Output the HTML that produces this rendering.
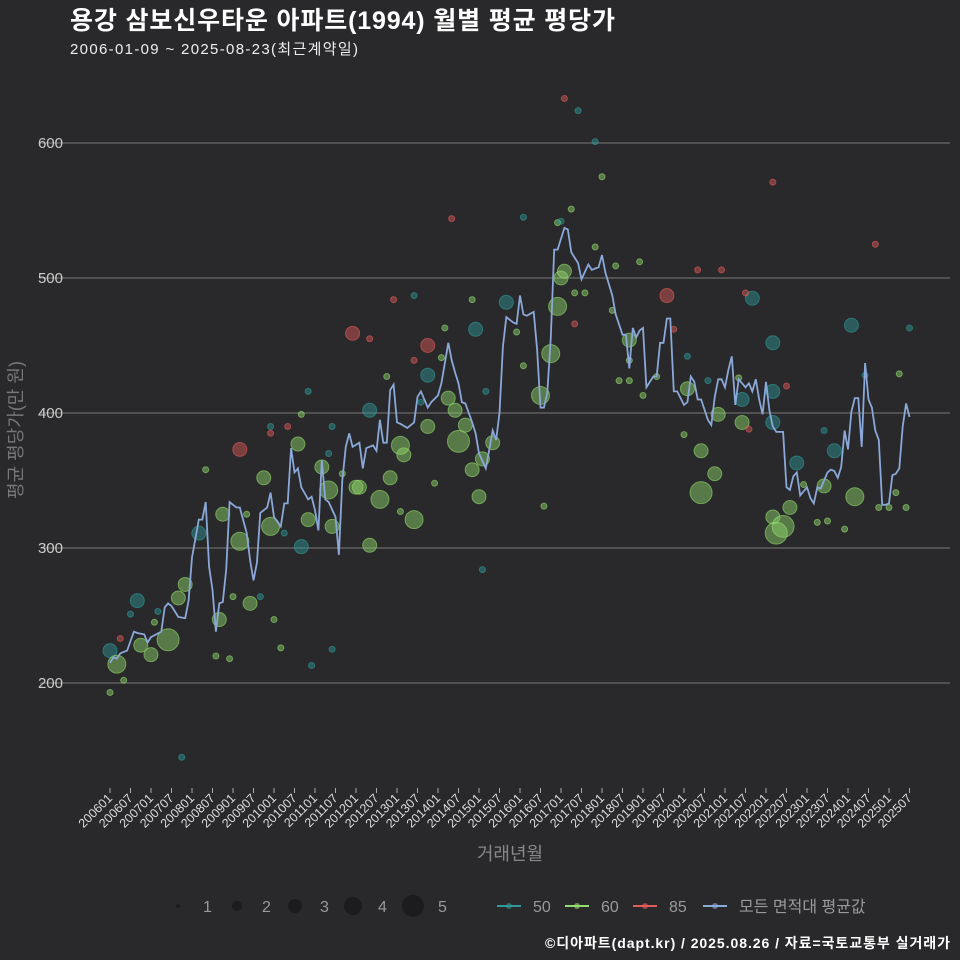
<!DOCTYPE html>
<html><head><meta charset="utf-8"><style>
body{margin:0;background:#29292b;}
svg{display:block;font-family:"Liberation Sans","Noto Sans CJK KR",sans-serif;}
</style></head><body>
<svg id="c" width="960" height="960" viewBox="0 0 960 960">
<rect width="960" height="960" fill="#29292b"/>
<text x="70" y="29" fill="#fff" font-size="25" font-weight="bold" textLength="545">용강 삼보신우타운 아파트(1994) 월별 평균 평당가</text>
<text x="70" y="54" fill="#eee" font-size="15" textLength="288">2006-01-09 ~ 2025-08-23(최근계약일)</text>
<g id="grid"></g><g id="pts"></g><g id="line"></g><g id="xax"></g>
<text transform="translate(22,430) rotate(-90)" text-anchor="middle" fill="#777" font-size="18">평균 평당가(만 원)</text>
<text x="510" y="860" text-anchor="middle" fill="#888" font-size="18">거래년월</text>
<g id="legend"></g>
<text x="950" y="948" text-anchor="end" fill="#fff" font-size="14" font-weight="bold" textLength="405">©디아파트(dapt.kr) / 2025.08.26 / 자료=국토교통부 실거래가</text>
</svg>
<script>
const yTicks=[200,300,400,500,600];
const xTickLabels=[];for(let y=2006;y<=2025;y++){xTickLabels.push(y+"01");xTickLabels.push(y+"07");}
const lineMonths=[0,1,2,3,5,7,8,10,11,12,15,16,17,18,20,22,23,24,26,27,28,29,30,31,32,33,34,35,37,38,40,41,42,43,44,46,47,48,50,51,52,53,54,55,56,58,59,60,61,62,63,64,66,67,68,69,70,71,73,74,75,77,78,79,80,81,82,83,84,85,87,89,90,91,93,94,96,97,99,100,101,102,103,104,105,106,107,108,110,111,112,113,114,115,116,117,118,119,120,121,122,124,125,126,127,128,129,130,131,133,134,135,137,138,140,141,142,143,144,145,147,148,150,151,152,153,154,155,156,157,159,160,161,162,163,164,165,166,168,169,170,171,172,173,175,176,177,178,179,180,181,182,183,184,185,186,187,188,189,190,191,192,193,194,195,197,198,199,200,201,202,203,204,205,206,207,208,209,210,211,212,213,214,215,216,217,218,219,220,221,222,223,224,225,226,227,228,229,230,231,232,233,234];
const lineValues=[215,219,218,222,224,238,237,236,230,234,238,256,259,257,249,248,261,293,321,321,334,286,269,238,259,260,284,334,330,330,311,291,276,289,326,330,341,323,316,333,333,374,356,359,345,336,338,328,313,365,336,334,323,295,350,375,385,375,378,359,374,376,372,395,378,378,417,421,393,392,389,393,412,416,404,408,413,422,452,439,430,422,408,407,400,393,385,370,359,373,387,380,400,449,471,469,467,466,487,473,472,475,447,404,404,415,456,521,521,537,536,519,511,499,510,506,507,508,517,504,487,473,458,458,433,463,456,461,463,419,427,427,452,452,470,470,416,416,406,408,427,423,410,410,395,391,412,425,425,419,432,442,406,425,422,419,422,416,425,410,399,423,402,390,386,386,345,343,353,356,339,342,345,337,333,345,344,350,356,358,357,352,360,387,373,401,411,411,375,437,410,404,387,380,332,332,333,354,355,359,390,407,397];
const bubMonths=[0,2,0,8,9,12,17,20,22,21,26,32,33,38,38,41,45,47,55,56,58,62,64,65,71,72,73,76,76,79,82,85,86,89,93,93,93,99,101,102,104,106,107,108,109,112,116,126,129,131,132,133,152,163,173,173,169,177,178,185,185,188,194,194,194,194,195,197,199,201,209,212,217,218,
3,4,6,14,13,28,31,35,36,44,40,48,50,51,47,47,52,56,59,58,64,65,65,68,76,81,83,85,89,89,91,95,97,98,100,106,109,110,121,121,119,127,131,132,135,133,137,136,136,139,142,142,144,147,148,149,152,152,155,156,160,165,169,168,172,179,175,186,184,187,194,198,203,207,210,209,215,224,221,225,228,230,231,233,234];
const bubValues=[224,214,193,261,228,221,232,263,273,145,311,247,325,373,305,259,352,316,377,301,321,360,343,316,459,345,345,302,402,336,352,376,369,321,450,428,390,411,402,379,391,358,462,338,366,378,482,413,444,479,500,505,454,487,341,372,418,355,399,393,410,485,452,416,393,323,311,316,330,363,346,372,465,338,
233,202,251,253,245,358,220,218,264,264,325,247,226,311,385,390,390,399,213,416,370,225,390,355,455,427,484,327,487,439,408,348,441,463,544,484,284,416,545,435,460,331,541,542,551,633,624,466,489,489,523,601,575,476,509,424,424,439,512,413,427,462,442,384,506,506,424,489,426,388,571,420,347,319,320,387,314,525,428,330,330,341,429,330,463];
const bubSizes=[3,4,1,3,3,3,5,3,3,1,3,3,3,3,4,3,3,4,3,3,3,3,4,3,3,3,3,3,3,4,3,4,3,4,3,3,3,3,3,5,3,3,3,3,3,3,3,4,4,4,3,3,3,3,5,3,3,3,3,3,3,3,3,3,3,3,5,5,3,3,3,3,3,4,
1,1,1,1,1,1,1,1,1,1,1,1,1,1,1,1,1,1,1,1,1,1,1,1,1,1,1,1,1,1,1,1,1,1,1,1,1,1,1,1,1,1,1,1,1,1,1,1,1,1,1,1,1,1,1,1,1,1,1,1,1,1,1,1,1,1,1,1,1,1,1,1,1,1,1,1,1,1,1,1,1,1,1,1,1];
const bubTypes=["50","60","60","50","60","60","60","60","60","50","50","60","60","85","60","60","60","60","60","50","60","60","60","60","85","60","60","60","50","60","60","60","60","60","85","50","60","60","60","60","60","60","50","60","60","60","50","60","60","60","60","60","60","85","60","60","60","60","60","60","50","50","50","50","50","60","60","60","60","50","60","50","50","60",
"85","60","50","50","60","60","60","60","60","50","60","60","60","50","85","50","85","60","50","50","50","50","50","60","85","60","85","60","50","85","50","60","60","60","85","60","50","50","50","60","60","60","60","50","60","85","50","85","60","60","60","50","60","60","60","60","60","60","60","60","60","85","50","60","85","85","50","85","60","85","85","85","60","60","60","50","60","85","50","60","60","60","60","60","50"];
const NS="http://www.w3.org/2000/svg";
function mk(t,a,p){const e=document.createElementNS(NS,t);for(const k in a)e.setAttribute(k,a[k]);p.appendChild(e);return e;}
const X=m=>110+m*20.5/6;
const Y=v=>683-(v-200)*1.35;
const R=s=>[0,3,5,7,9,11][s];
const col={"50":"#2f9a98","60":"#93dc6c","85":"#e35a5a"};
const grid=document.getElementById('grid');
yTicks.forEach(v=>{const l=mk('line',{x1:40,x2:950,y1:Y(v),y2:Y(v),stroke:'#6a6a6a','stroke-width':1.2},grid);


const t=mk('text',{x:63,y:Y(v)+5,'text-anchor':'end',fill:'#ccc','font-size':15},grid);t.textContent=v;

});
const xa=document.getElementById('xax');
xTickLabels.forEach((lab,i)=>{const x=X(i*6);
const tk=mk('line',{x1:x,x2:x,y1:788,y2:793,stroke:'#aaa'},xa);


const t=mk('text',{transform:`translate(${x+3},799) rotate(-45)`,'text-anchor':'end',fill:'#ddd','font-size':12.5},xa);t.textContent=lab;

});
const pts=document.getElementById('pts');
bubMonths.forEach((m,i)=>{const c=col[bubTypes[i]];
const e=mk('circle',{cx:X(m),cy:Y(bubValues[i]),r:R(bubSizes[i]),fill:c,'fill-opacity':0.45,stroke:c,'stroke-opacity':0.6},pts);

});
const d=lineMonths.map((m,i)=>(i?'L':'M')+X(m).toFixed(1)+','+Y(lineValues[i]).toFixed(1)).join('');
const pl=mk('path',{d:d,fill:'none',stroke:'#8aa8d8','stroke-width':1.8},document.getElementById('line'));


const lg=document.getElementById('legend');
[[178,1],[237,2],[295,3],[353,4],[413,5]].forEach(([x,s])=>{const c=mk('circle',{cx:x,cy:906,r:R(s)-(s==1?1:0),fill:'#1c1c1e'},lg);


const t=mk('text',{x:x+25,y:912,fill:'#999','font-size':16},lg);t.textContent=s;

});
[[497,'#2f9a98','50'],[565,'#93dc6c','60'],[633,'#e35a5a','85'],[703,'#8aa8d8','모든 면적대 평균값']].forEach(([x,c,lab])=>{
const g=mk('g',{},lg);


mk('line',{x1:x,x2:x+24,y1:906,y2:906,stroke:c,'stroke-width':2},g);
mk('circle',{cx:x+12,cy:906,r:3,fill:c,'fill-opacity':0.6},g);
const t=mk('text',{x:x+36,y:912,fill:'#999','font-size':16},g);t.textContent=lab;});
</script>
</body></html>
